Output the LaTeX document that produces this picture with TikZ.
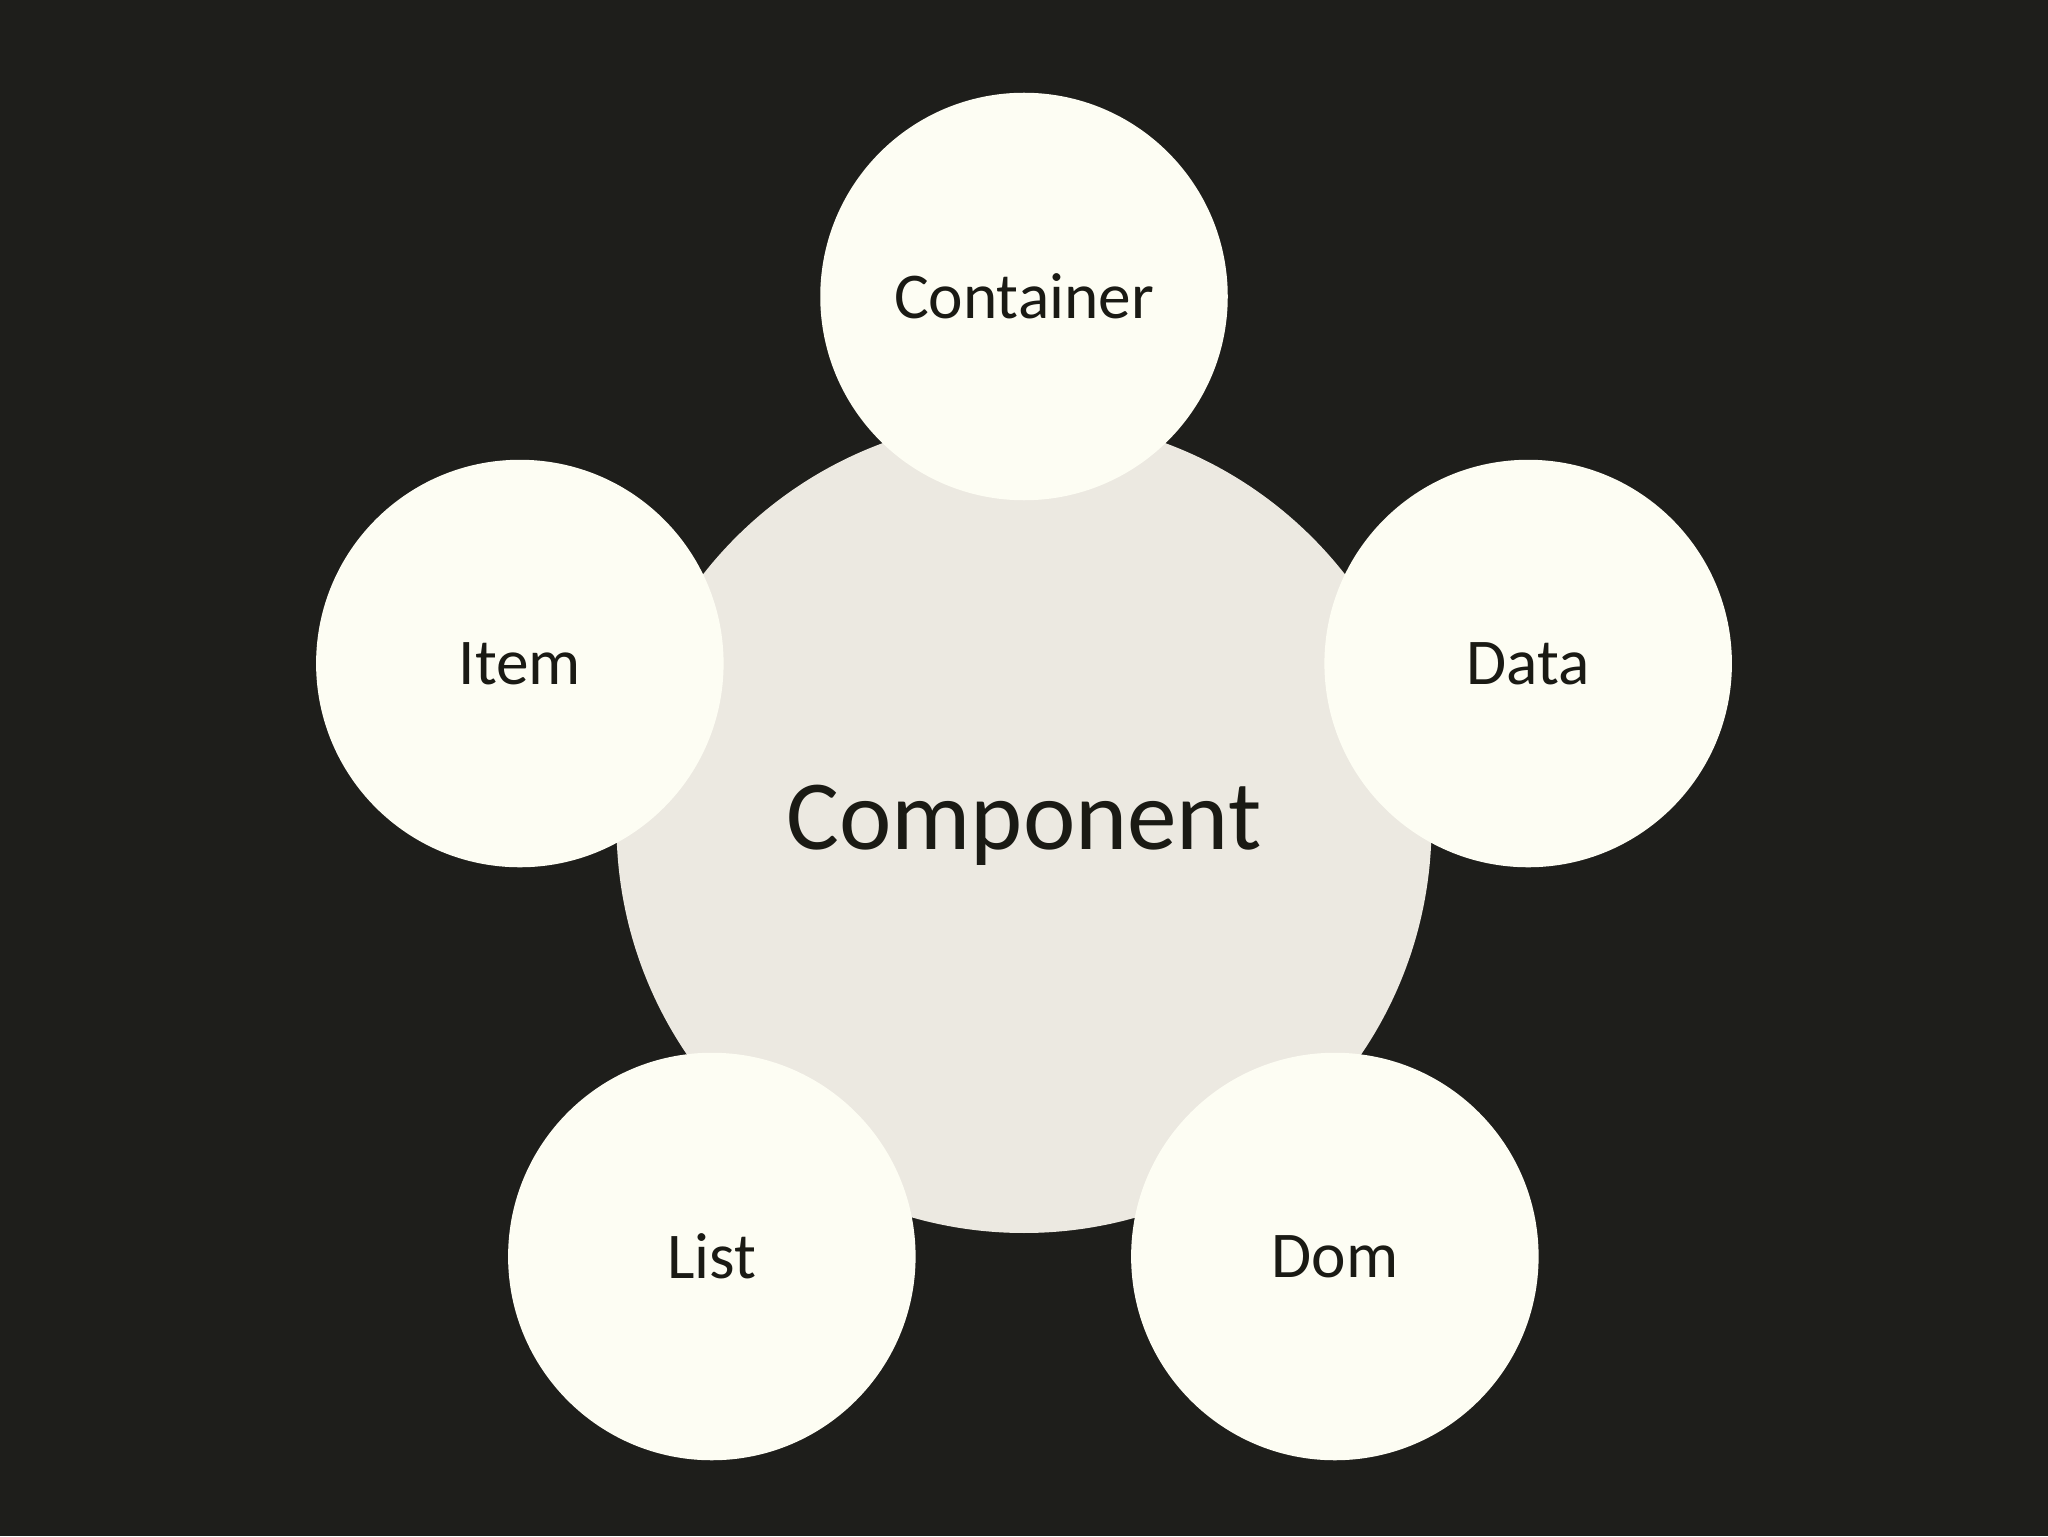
\documentclass[tikz,border=0pt]{standalone}
\usepackage{fontspec}
\setmainfont{Carlito}
\definecolor{bg}{HTML}{1E1E1B}
\definecolor{small}{HTML}{FDFDF3}
\definecolor{big}{HTML}{ECE9E1}
\definecolor{txt}{HTML}{1A1A14}
\begin{document}
\begin{tikzpicture}[x=1pt,y=-1pt,
  bigc/.style={circle,fill=big,minimum size=624pt,inner sep=0pt,text=txt,font=\fontsize{76}{80}\selectfont},
  smallc/.style={circle,fill=small,minimum size=312pt,inner sep=0pt,text=txt,font=\fontsize{50}{54}\selectfont}]
\fill[bg] (0,0) rectangle (1568,1176);
\node[bigc] (comp) at (784,632) {Component};
\node[smallc] (cont) at (784,227) {Container};
\node[smallc] (item) at (398,508) {Item};
\node[smallc] (data) at (1170,508) {Data};
\node[smallc] (list) at (545,962) {List};
\node[smallc] (dom) at (1022,962) {Dom};
\end{tikzpicture}
\end{document}
